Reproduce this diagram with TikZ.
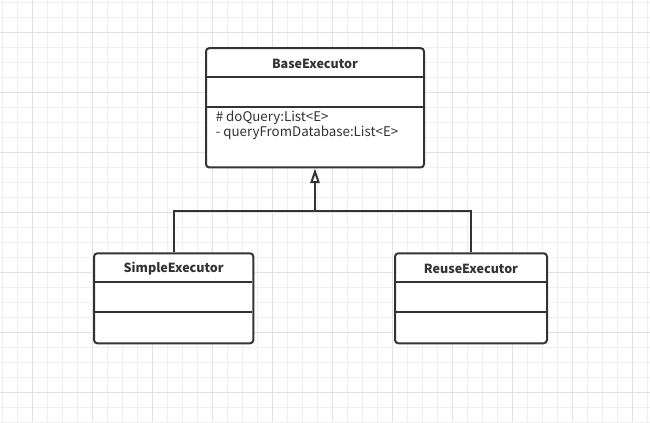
\documentclass[tikz,border=0pt]{standalone}
\usepackage{fontspec}
\setmainfont{Noto Sans CJK SC}
\usetikzlibrary{arrows.meta}
\definecolor{ink}{HTML}{333333}
\definecolor{gridminor}{HTML}{F0F0F0}
\definecolor{gridmajor}{HTML}{E2E2E2}
\tikzset{
  classbox/.style={draw=ink, line width=1.5pt, rounded corners=2.5pt, fill=white, inner sep=0pt},
  sepline/.style={draw=ink, line width=1.5pt},
  classname/.style={font=\bfseries\fontsize{9.4}{11}\selectfont, text=ink},
  member/.style={font=\fontsize{10}{11.4}\selectfont, text=ink, align=left, anchor=north west, inner sep=0pt},
  inherit/.style={draw=ink, line width=1.5pt, -{Triangle[open, length=11pt, width=7pt, line width=1.5pt]}}
}
\begin{document}
\begin{tikzpicture}[x=0.75pt, y=-0.75pt]
\useasboundingbox (0,0) rectangle (650,422);

% grid
\foreach \g in {0,...,43}
{
    \draw[gridminor, line width=0.75pt] (2.3+15*\g,0) -- (2.3+15*\g,422);
}
\foreach \g in {0,...,28}
{
    \draw[gridminor, line width=0.75pt] (0,2.3+15*\g) -- (650,2.3+15*\g);
}
\foreach \g in {0,...,10}
{
    \draw[gridmajor, line width=0.75pt] (32.3+60*\g,0) -- (32.3+60*\g,422);
}
\foreach \g in {0,...,6}
{
    \draw[gridmajor, line width=0.75pt] (0,32.3+60*\g) -- (650,32.3+60*\g);
}

% classes
\node[classbox, minimum width=163.5pt, minimum height=89.5pt] (base) at (315,107.8) {};
\node[classbox, minimum width=119.5pt, minimum height=67.5pt] (simple) at (173.7,298.3) {};
\node[classbox, minimum width=114pt, minimum height=67.5pt] (reuse) at (471,298.3) {};

\node[classname] (baseName) at (315,63.5) {BaseExecutor};
\node[classname] (simpleName) at (173.7,268.5) {SimpleExecutor};
\node[classname] (reuseName) at (471,268.5) {ReuseExecutor};

\draw[sepline] (base.north west) ++(0,29.7) -- ++(218,0);
\draw[sepline] (base.north west) ++(0,60.3) -- ++(218,0);
\draw[sepline] (simple.north west) ++(0,29.4) -- ++(159.3,0);
\draw[sepline] (simple.north west) ++(0,60) -- ++(159.3,0);
\draw[sepline] (reuse.north west) ++(0,29.4) -- ++(152,0);
\draw[sepline] (reuse.north west) ++(0,60) -- ++(152,0);

\node[member] (baseOps) at (215.5,110.5) {\# doQuery:List<E>\\- queryFromDatabase:List<E>};

% generalization
\coordinate (J) at (315,210.7);
\draw[sepline] (simple.north) |- (J) -| (reuse.north);
\draw[inherit] (J) -- (base.south);
\end{tikzpicture}
\end{document}
